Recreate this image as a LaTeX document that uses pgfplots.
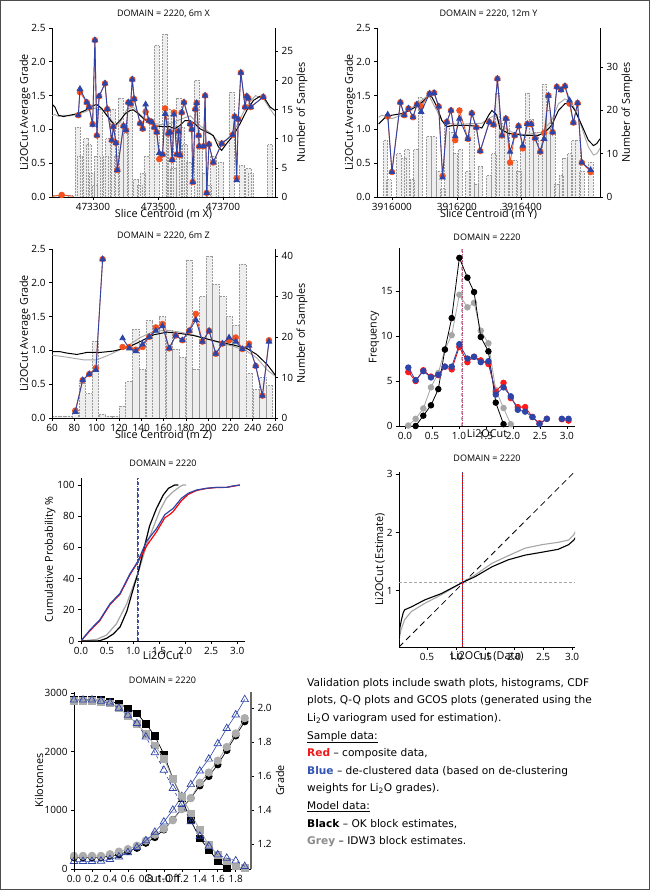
\documentclass[border=0pt]{standalone}
\usepackage{pgfplots}
\pgfplotsset{compat=1.18}
\usepackage{fontspec}
\setmainfont{Open Sans}
\newfontfamily\tf{DejaVu Sans}
\definecolor{rd}{HTML}{F4511E}
\definecolor{bl}{HTML}{2E45A8}
\definecolor{gl}{HTML}{A6A6A6}
\definecolor{barf}{HTML}{EEEEEE}
\definecolor{bard}{HTML}{9A9A9A}
\definecolor{mauve}{HTML}{C04A78}
\definecolor{txtred}{HTML}{F01818}
\definecolor{txtblue}{HTML}{3355B5}
\definecolor{txtgrey}{HTML}{8C8C8C}
\pgfplotsset{
 base/.style={scale only axis, anchor=south west, clip mode=individual,
   axis line style={black, line width=0.6pt}, tick style={black, line width=0.6pt},
   tick align=outside, major tick length=3pt,
   tick label style={font=\fontsize{10}{11}\selectfont},
   label style={font=\fontsize{10.8}{12}\selectfont},
   title style={font=\fontsize{9}{10}\selectfont},
   /pgf/number format/assume math mode=true, unbounded coords=jump},
 ylab/.style={ylabel style={at={(axis description cs:#1,0.5)}, anchor=center}},
 xlab/.style={xlabel style={at={(axis description cs:0.5,#1)}, anchor=center}},
 ttl/.style={title style={at={(axis description cs:0.5,#1)}, anchor=center, yshift=-6pt}},
 rdm/.style={rd, line width=0.8pt, mark=*, mark size=2.8pt, mark options={solid, fill=rd, draw=rd}},
 blm/.style={bl, line width=0.9pt, mark=triangle*, mark size=3pt, mark options={solid, fill=bl, draw=bl}},
 bars/.style={ybar, bar width=#1, fill=barf, draw=bard, densely dotted, line width=0.5pt},
 dec1/.style={/pgf/number format/.cd, fixed, fixed zerofill, precision=1},
}
\begin{document}
\begin{tikzpicture}[x=1pt,y=1pt]
\useasboundingbox (0,0) rectangle (650,890);
\fill[white] (0,0) rectangle (650,890);

% ================= P1 : 6m X swath =================
\begin{axis}[base, at={(52pt,693pt)}, width=223pt, height=169pt,
 xmin=473174, xmax=473860, ymin=0, ymax=29,
 axis x line=none, axis y line*=right, ytick={0,5,10,15,20,25},
 ylabel={Number of Samples}, ylab=1.121]
\addplot[bars=16] coordinates {(473185,0.3)(473200,0.3)(473215,0.3)(473230,0.3)(473252,12)(473260,7)(473279,10)(473286,9)(473296,4)(473306,2)(473313,7)(473322,15)(473340,7)(473347,10)(473361,15)(473373,7)(473385,17)(473402,11)(473414,16)(473432,3)(473443,2)(473453,4)(473465,7)(473481,13)(473496,26)(473522,28)(473532,15)(473539,14)(473547,5)(473563,17)(473573,12)(473583,9)(473594,6)(473619,20)(473629,9)(473645,4)(473655,2)(473670,7)(473694,6)(473726,18)(473758,5.5)(473778,5)(473785,4)(473845,9)};
\end{axis}
\begin{axis}[base, at={(52pt,693pt)}, width=223pt, height=169pt,
 xmin=473174, xmax=473860, ymin=0, ymax=2.5,
 axis x line*=bottom, axis y line*=left,
 xtick={473300,473500,473700}, scaled x ticks=false,
 xticklabel style={/pgf/number format/.cd, fixed, 1000 sep={}},
 ytick={0,0.5,1,1.5,2,2.5}, yticklabel style={dec1},
 ylabel={Li2OCut Average Grade}, ylab=-0.121,
 xlabel={Slice Centroid (m X)}, xlab=-0.1,
 title={DOMAIN = 2220, 6m X}, ttl=1.083]
\addplot[gl, line width=0.9pt] coordinates {(473173,1.20)(473183,1.22)(473194,1.19)(473209,1.21)(473229,1.20)(473250,1.22)(473276,1.26)(473296,1.30)(473320,1.33)(473342,1.22)(473358,1.13)(473370,1.05)(473383,1.10)(473405,1.30)(473424,1.33)(473445,1.22)(473476,1.10)(473510,1.07)(473540,1.09)(473575,1.16)(473600,1.20)(473630,1.05)(473660,0.95)(473690,0.80)(473711,0.85)(473732,0.95)(473752,1.15)(473773,1.35)(473800,1.50)(473825,1.45)(473845,1.30)(473860,1.20)};
\addplot[black, line width=1pt] coordinates {(473173,1.38)(473183,1.33)(473194,1.21)(473209,1.19)(473229,1.21)(473250,1.23)(473276,1.28)(473296,1.34)(473311,1.37)(473327,1.31)(473342,1.21)(473358,1.11)(473368,1.06)(473383,1.13)(473399,1.23)(473414,1.28)(473424,1.29)(473440,1.23)(473455,1.16)(473476,1.09)(473496,1.05)(473517,1.04)(473537,1.04)(473552,1.01)(473568,1.06)(473583,1.13)(473599,1.13)(473614,1.08)(473629,1.01)(473650,0.96)(473670,0.91)(473686,0.74)(473696,0.69)(473711,0.79)(473732,0.91)(473752,1.08)(473773,1.28)(473794,1.43)(473814,1.49)(473829,1.45)(473845,1.33)(473860,1.28)};
\addplot[rdm, mark indices={2}] coordinates {(473174,0.01)(473204,0.03)(473240,0.01)};
\addplot[rdm] table[x=X, y=R, row sep=\\] {X R B\\
473255 1.21 1.21\\ 473260 1.55 1.60\\ 473281 1.40 1.40\\ 473288 1.33 1.33\\ 473299 1.08 1.07\\ 473306 2.32 2.32\\ 473312 0.91 0.91\\ 473319 1.49 1.49\\ 473337 1.68 1.68\\ 473344 1.30 1.30\\ 473358 0.84 0.84\\ 473363 1.04 1.04\\ 473371 0.80 0.80\\ 473375 0.40 0.40\\ 473394 1.05 1.05\\ 473402 0.99 0.99\\ 473409 1.40 1.40\\ 473416 1.38 1.38\\ 473421 1.74 1.74\\ 473427 1.45 1.45\\ 473445 1.09 1.09\\ 473453 1.01 1.01\\ 473462 1.26 1.37\\ 473472 1.13 1.13\\ 473481 1.11 1.11\\ 473489 1.03 1.03\\ 473496 0.96 0.96\\ 473504 0.56 0.65\\ 473514 0.63 0.63\\ 473522 1.31 1.23\\ 473532 0.94 0.94\\ 473537 0.96 0.96\\ 473544 0.55 0.55\\ 473549 1.25 1.22\\ 473558 0.63 0.63\\ 473563 0.97 0.97\\ 473568 0.62 0.62\\ 473573 1.25 1.25\\ 473580 1.40 1.40\\ 473599 1.08 1.08\\ 473604 1.00 1.00\\ 473607 0.22 0.22\\ 473615 1.30 1.30\\ 473619 1.39 1.39\\ 473625 0.91 0.91\\ 473627 0.75 0.75\\ 473640 0.75 0.75\\ 473645 1.50 1.50\\ 473650 0.06 0.06\\ 473657 0.78 0.78\\ 473670 0.51 0.51\\ 473696 0.79 0.79\\ 473730 0.92 0.92\\ 473736 1.19 1.19\\ 473742 0.28 0.25\\ 473747 1.15 1.15\\ 473755 1.84 1.84\\ 473768 1.33 1.33\\ 473773 1.49 1.49\\ 473778 1.46 1.46\\ 473785 1.33 1.33\\ 473824 1.48 1.48\\};
\addplot[blm] table[x=X, y=B, row sep=\\] {X R B\\
473255 1.21 1.21\\ 473260 1.55 1.60\\ 473281 1.40 1.40\\ 473288 1.33 1.33\\ 473299 1.08 1.07\\ 473306 2.32 2.32\\ 473312 0.91 0.91\\ 473319 1.49 1.49\\ 473337 1.68 1.68\\ 473344 1.30 1.30\\ 473358 0.84 0.84\\ 473363 1.04 1.04\\ 473371 0.80 0.80\\ 473375 0.40 0.40\\ 473394 1.05 1.05\\ 473402 0.99 0.99\\ 473409 1.40 1.40\\ 473416 1.38 1.38\\ 473421 1.74 1.74\\ 473427 1.45 1.45\\ 473445 1.09 1.09\\ 473453 1.01 1.01\\ 473462 1.26 1.37\\ 473472 1.13 1.13\\ 473481 1.11 1.11\\ 473489 1.03 1.03\\ 473496 0.96 0.96\\ 473504 0.56 0.65\\ 473514 0.63 0.63\\ 473522 1.31 1.23\\ 473532 0.94 0.94\\ 473537 0.96 0.96\\ 473544 0.55 0.55\\ 473549 1.25 1.22\\ 473558 0.63 0.63\\ 473563 0.97 0.97\\ 473568 0.62 0.62\\ 473573 1.25 1.25\\ 473580 1.40 1.40\\ 473599 1.08 1.08\\ 473604 1.00 1.00\\ 473607 0.22 0.22\\ 473615 1.30 1.30\\ 473619 1.39 1.39\\ 473625 0.91 0.91\\ 473627 0.75 0.75\\ 473640 0.75 0.75\\ 473645 1.50 1.50\\ 473650 0.06 0.06\\ 473657 0.78 0.78\\ 473670 0.51 0.51\\ 473696 0.79 0.79\\ 473730 0.92 0.92\\ 473736 1.19 1.19\\ 473742 0.28 0.25\\ 473747 1.15 1.15\\ 473755 1.84 1.84\\ 473768 1.33 1.33\\ 473773 1.49 1.49\\ 473778 1.46 1.46\\ 473785 1.33 1.33\\ 473824 1.48 1.48\\};
\end{axis}

% ================= P2 : 12m Y swath (x = Y - 3916000) =================
\begin{axis}[base, at={(377pt,693pt)}, width=223pt, height=169pt,
 xmin=-46, xmax=641, ymin=0, ymax=39,
 axis x line=none, axis y line*=right, ytick={0,10,20,30},
 ylabel={Number of Samples}, ylab=1.121]
\addplot[bars=14] coordinates {(-20,13)(-10,4)(21,10)(36,9)(46,11)(62,4)(74,11)(87,23)(113,14)(128,14)(144,6)(156,2)(169,17)(183,15)(195,10)(210,11)(234,6)(246,17)(260,3)(272,7)(298,5)(313,10)(325,24)(339,17)(354,18)(364,8)(378,8.5)(390,6)(403,12)(417,24)(429,18)(443,15)(457,13)(469,26)(482,20)(495,15)(508,3)(521,5)(533,9)(547,10)(559,13)(572,13)(585,6)(612,8)};
\end{axis}
\begin{axis}[base, at={(377pt,693pt)}, width=223pt, height=169pt,
 xmin=-46, xmax=641, ymin=0, ymax=2.5,
 axis x line*=bottom, axis y line*=left,
 xtick={0,200,400}, xticklabels={3916000,3916200,3916400},
 ytick={0,0.5,1,1.5,2,2.5}, yticklabel style={dec1},
 ylabel={Li2OCut Average Grade}, ylab=-0.121,
 xlabel={Slice Centroid (m Y)}, xlab=-0.1,
 title={DOMAIN = 2220, 12m Y}, ttl=1.083]
\addplot[gl, line width=0.9pt] coordinates {(-41,1.18)(-31,1.21)(0,1.16)(31,1.21)(92,1.43)(113,1.51)(154,1.13)(185,1.08)(226,1.08)(277,1.09)(298,1.16)(318,1.21)(339,1.05)(369,0.96)(410,0.92)(462,0.96)(492,1.13)(513,1.38)(533,1.45)(554,1.40)(574,1.18)(605,0.74)(621,0.62)(631,0.64)(641,0.72)};
\addplot[black, line width=1pt] coordinates {(-41,1.08)(-20,1.18)(0,1.21)(26,1.23)(51,1.27)(72,1.33)(92,1.40)(113,1.49)(123,1.48)(139,1.33)(154,1.13)(169,1.04)(190,1.06)(226,1.06)(257,1.05)(277,1.02)(298,1.21)(308,1.28)(323,1.21)(333,1.01)(359,0.94)(410,0.91)(451,0.91)(472,0.96)(492,1.06)(513,1.28)(533,1.38)(549,1.38)(564,1.28)(585,1.06)(605,0.84)(621,0.76)(631,0.79)(641,0.86)};
\addplot[rdm] table[x=X, y=R, row sep=\\] {X R B\\
-13 1.19 1.22\\ 0 0.37 0.37\\ 26 1.40 1.40\\ 38 1.21 1.21\\ 51 1.31 1.31\\ 65 1.18 1.18\\ 77 1.37 1.37\\ 90 1.34 1.26\\ 116 1.53 1.53\\ 130 1.54 1.54\\ 144 1.34 1.34\\ 156 0.31 0.29\\ 169 1.11 1.11\\ 182 1.28 1.28\\ 195 0.84 0.90\\ 208 1.28 1.16\\ 234 0.86 0.86\\ 246 1.24 1.24\\ 260 1.03 1.03\\ 272 0.68 0.68\\ 300 1.11 1.11\\ 313 1.07 1.07\\ 325 1.75 1.75\\ 339 0.91 0.91\\ 351 1.16 1.16\\ 364 0.51 0.67\\ 378 0.91 0.91\\ 390 1.05 1.05\\ 403 0.72 0.76\\ 417 1.08 1.08\\ 429 1.08 1.08\\ 441 0.87 0.87\\ 457 0.67 0.67\\ 469 0.95 0.86\\ 482 1.50 1.50\\ 495 0.96 0.96\\ 508 1.63 1.63\\ 521 1.59 1.58\\ 533 1.64 1.64\\ 547 1.38 1.43\\ 559 1.10 1.10\\ 572 1.39 1.39\\ 585 0.51 0.51\\ 612 0.37 0.40\\};
\addplot[blm] table[x=X, y=B, row sep=\\] {X R B\\
-13 1.19 1.22\\ 0 0.37 0.37\\ 26 1.40 1.40\\ 38 1.21 1.21\\ 51 1.31 1.31\\ 65 1.18 1.18\\ 77 1.37 1.37\\ 90 1.34 1.26\\ 116 1.53 1.53\\ 130 1.54 1.54\\ 144 1.34 1.34\\ 156 0.31 0.29\\ 169 1.11 1.11\\ 182 1.28 1.28\\ 195 0.84 0.90\\ 208 1.28 1.16\\ 234 0.86 0.86\\ 246 1.24 1.24\\ 260 1.03 1.03\\ 272 0.68 0.68\\ 300 1.11 1.11\\ 313 1.07 1.07\\ 325 1.75 1.75\\ 339 0.91 0.91\\ 351 1.16 1.16\\ 364 0.51 0.67\\ 378 0.91 0.91\\ 390 1.05 1.05\\ 403 0.72 0.76\\ 417 1.08 1.08\\ 429 1.08 1.08\\ 441 0.87 0.87\\ 457 0.67 0.67\\ 469 0.95 0.86\\ 482 1.50 1.50\\ 495 0.96 0.96\\ 508 1.63 1.63\\ 521 1.59 1.58\\ 533 1.64 1.64\\ 547 1.38 1.43\\ 559 1.10 1.10\\ 572 1.39 1.39\\ 585 0.51 0.51\\ 612 0.37 0.40\\};
\end{axis}

% ================= P3 : 6m Z swath =================
\begin{axis}[base, at={(52pt,472pt)}, width=223pt, height=169pt,
 xmin=60, xmax=260, ymin=0, ymax=41.7,
 axis x line=none, axis y line*=right, ytick={0,10,20,30,40},
 ylabel={Number of Samples}, ylab=1.121]
\addplot[bars=5.8] coordinates {(63,0.5)(69,0.5)(75,0.5)(81,2)(87,8.6)(93,6)(99,19)(105,1)(111,0.5)(117,0.4)(123,3)(129,9)(135,22)(141,12)(147,24)(153,22.5)(159,25)(165,21.7)(171,17)(177,15)(183,39)(189,12)(195,30)(201,40)(207,33)(213,30)(219,25)(225,23)(231,38)(237,11)(243,7)(249,10)(255,8)};
\end{axis}
\begin{axis}[base, at={(52pt,472pt)}, width=223pt, height=169pt,
 xmin=60, xmax=260, ymin=0, ymax=2.5,
 axis x line*=bottom, axis y line*=left,
 xtick={60,80,100,120,140,160,180,200,220,240,260},
 ytick={0,0.5,1,1.5,2,2.5}, yticklabel style={dec1},
 ylabel={Li2OCut Average Grade}, ylab=-0.121,
 xlabel={Slice Centroid (m Z)}, xlab=-0.1,
 title={DOMAIN = 2220, 6m Z}, ttl=1.077]
\addplot[gl, line width=0.9pt] coordinates {(60,0.93)(73.4,0.90)(88.3,0.86)(100.3,0.86)(112.2,0.94)(127.2,1.06)(139.1,1.19)(151,1.28)(163,1.30)(174.9,1.27)(186.9,1.23)(198.8,1.17)(210.7,1.11)(222.7,1.06)(234.6,0.99)(243.6,0.89)(253,0.71)(260,0.62)};
\addplot[black, line width=1pt] coordinates {(60,0.98)(67.5,0.98)(73.4,0.96)(82.4,0.94)(91.3,0.97)(103.3,0.97)(115.2,0.99)(127.2,1.04)(139.1,1.13)(151,1.23)(163,1.27)(174.9,1.25)(186.9,1.22)(198.8,1.17)(210.7,1.12)(222.7,1.08)(234.6,1.03)(243.6,0.94)(253,0.79)(260,0.64)};
\addplot[rdm] table[x=X, y=R, row sep=\\] {X R B\\
80.9 0.11 0.09\\ 87.5 0.56 0.56\\ 93.4 0.65 0.65\\ 99.4 0.74 0.71\\ 105.4 2.35 2.35\\ 114 nan nan\\ 123.3 1.05 1.18\\ 129.3 1.05 1.03\\ 135.2 1.01 0.99\\ 141.2 1.05 1.09\\ 147.2 1.20 1.20\\ 153.1 1.34 1.29\\ 159.1 1.39 1.36\\ 165.1 1.03 1.03\\ 171.0 1.22 1.22\\ 177.0 1.15 1.15\\ 183.0 1.29 1.29\\ 189.0 1.54 1.45\\ 194.9 1.13 1.13\\ 200.9 1.29 1.29\\ 206.9 0.95 0.95\\ 212.8 1.10 1.10\\ 218.8 1.15 1.19\\ 224.8 1.19 1.13\\ 230.7 1.02 1.02\\ 236.7 1.10 1.07\\ 242.7 0.77 0.77\\ 248.7 0.33 0.33\\ 254.6 1.15 1.13\\};
\addplot[blm] table[x=X, y=B, row sep=\\] {X R B\\
80.9 0.11 0.09\\ 87.5 0.56 0.56\\ 93.4 0.65 0.65\\ 99.4 0.74 0.71\\ 105.4 2.35 2.35\\ 114 nan nan\\ 123.3 1.05 1.18\\ 129.3 1.05 1.03\\ 135.2 1.01 0.99\\ 141.2 1.05 1.09\\ 147.2 1.20 1.20\\ 153.1 1.34 1.29\\ 159.1 1.39 1.36\\ 165.1 1.03 1.03\\ 171.0 1.22 1.22\\ 177.0 1.15 1.15\\ 183.0 1.29 1.29\\ 189.0 1.54 1.45\\ 194.9 1.13 1.13\\ 200.9 1.29 1.29\\ 206.9 0.95 0.95\\ 212.8 1.10 1.10\\ 218.8 1.15 1.19\\ 224.8 1.19 1.13\\ 230.7 1.02 1.02\\ 236.7 1.10 1.07\\ 242.7 0.77 0.77\\ 248.7 0.33 0.33\\ 254.6 1.15 1.13\\};
\end{axis}

% ================= P4 : histogram =================
\begin{axis}[base, at={(399pt,464pt)}, width=176pt, height=178pt,
 xmin=-0.11, xmax=3.15, ymin=0, ymax=19.8,
 axis x line*=bottom, axis y line*=left,
 xtick={0,0.5,1,1.5,2,2.5,3}, xticklabel style={dec1}, ytick={0,5,10,15},
 ylabel={Frequency}, ylab=-0.142,
 xlabel={Li2OCut}, xlab=-0.045,
 title={DOMAIN = 2220}, ttl=1.062,
 every axis plot/.append style={mark=*, mark size=2.8pt, line width=0.8pt}]
\addplot[gray!60, dashed, line width=1.8pt, mark=none] coordinates {(1.06,0)(1.06,19.8)};
\addplot[mauve, densely dotted, line width=1.2pt, mark=none] coordinates {(1.06,0)(1.06,19.8)};
\addplot[gl, mark options={fill=gl, draw=gl}] coordinates {(0.062,0.05)(0.198,0.8)(0.34,1.95)(0.482,4.3)(0.618,5.9)(0.74,8.5)(0.866,10.1)(1.008,14.6)(1.157,13.2)(1.28,13.7)(1.404,10.6)(1.546,9.2)(1.682,4.0)(1.826,2.0)(1.96,0.2)};
\addplot[black, mark options={fill=black}] coordinates {(0.198,0)(0.34,1.15)(0.482,2.3)(0.618,4.1)(0.74,8.5)(0.866,12.0)(1.008,18.7)(1.157,16.5)(1.28,14.9)(1.404,9.9)(1.546,8.3)(1.682,2.6)(1.826,0.2)};
\addplot[red!90!black, mark options={fill=red!90, draw=red!90}] table[row sep=\\] {x y\\ 0.062 6.0\\ 0.198 5.0\\ 0.34 6.2\\ 0.482 5.5\\ 0.618 5.65\\ 0.74 6.6\\ 0.866 6.3\\ 1.008 8.8\\ 1.157 7.1\\ 1.28 7.7\\ 1.404 7.3\\ 1.546 6.9\\ 1.682 3.8\\ 1.826 4.8\\ 1.96 3.1\\ 2.09 2.1\\ 2.226 2.1\\ 2.362 1.0\\ 2.492 0.3\\ 2.628 0.8\\ 2.76 nan\\ 2.906 0.75\\ 3.03 0.6\\};
\addplot[bl, mark options={fill=bl, draw=bl}] table[row sep=\\] {x y\\ 0.062 6.5\\ 0.198 5.1\\ 0.34 6.1\\ 0.482 5.4\\ 0.618 5.7\\ 0.74 6.6\\ 0.866 6.6\\ 1.008 9.1\\ 1.157 7.5\\ 1.28 7.7\\ 1.404 7.1\\ 1.546 7.2\\ 1.682 3.5\\ 1.826 4.3\\ 1.96 3.3\\ 2.09 1.8\\ 2.226 1.6\\ 2.362 1.0\\ 2.492 0.2\\ 2.628 0.8\\ 2.76 nan\\ 2.906 0.8\\ 3.03 0.8\\};
\end{axis}

% ================= P5 : CDF =================
\begin{axis}[base, at={(81pt,249pt)}, width=164pt, height=163pt,
 xmin=0, xmax=3.15, ymin=0, ymax=104.5,
 axis x line*=bottom, axis y line*=left,
 xtick={0,0.5,1,1.5,2,2.5,3}, xticklabel style={dec1}, ytick={0,20,40,60,80,100},
 ylabel={Cumulative Probability \%}, ylab=-0.189,
 xlabel={Li2OCut}, xlab=-0.092,
 title={DOMAIN = 2220}, ttl=1.092]
\addplot[gl, line width=1.2pt] coordinates {(0,0)(0.3,1)(0.49,3.8)(0.68,11)(0.88,24)(1.0,35)(1.09,43)(1.26,61.5)(1.39,73)(1.52,84)(1.64,91.5)(1.77,95.7)(1.9,99)(1.96,100)(2.02,100)};
\addplot[black, line width=1.2pt] coordinates {(0,0)(0.3,0)(0.36,0.2)(0.49,1.7)(0.62,4.5)(0.75,9)(0.88,19)(1.0,33)(1.09,43)(1.2,58)(1.32,74)(1.45,85)(1.58,93.6)(1.68,97.9)(1.8,100)(1.87,100)};
\addplot[red, line width=1.2pt] coordinates {(0,0)(0.17,6.5)(0.36,13)(0.56,23.5)(0.75,30)(0.94,42.5)(1.09,50.5)(1.2,57)(1.26,61)(1.45,70)(1.61,79)(1.7,81)(1.77,83)(1.93,90)(2.06,94)(2.22,96.5)(2.41,97.8)(2.6,98.4)(2.8,98.5)(2.92,99.2)(3.05,100)};
\addplot[bl, line width=1.2pt] coordinates {(0,0)(0.17,7)(0.36,13.5)(0.56,24)(0.75,30.5)(0.94,43)(1.09,51)(1.26,64)(1.45,72)(1.61,81)(1.77,85)(1.93,91.5)(2.06,94.7)(2.22,96.8)(2.41,97.9)(2.6,98.5)(2.8,98.5)(2.92,99.4)(3.05,100)};
\addplot[bl!70!gray, dashed, line width=1.8pt] coordinates {(1.09,0)(1.09,104.5)};
\addplot[red, densely dotted, line width=1.3pt] coordinates {(1.09,0)(1.09,104.5)};
\end{axis}

% ================= P6 : Q-Q =================
\begin{axis}[base, at={(399pt,243pt)}, width=176pt, height=175pt,
 xmin=0.017, xmax=3.05, ymin=0.03, ymax=3.04,
 axis x line*=bottom, axis y line*=left,
 xtick={0.5,1,1.5,2,2.5,3}, xticklabel style={dec1}, ytick={1,2,3},
 ylabel={Li2OCut (Estimate)}, ylab=-0.108,
 xlabel={Li2OCut (Data)}, xlab=-0.051,
 title={DOMAIN = 2220}, ttl=1.08]
\addplot[black, dash pattern=on 6pt off 4pt, line width=0.8pt] coordinates {(0.017,0.03)(3.03,3.03)};
\addplot[gray!70, dash pattern=on 3pt off 2pt, line width=1pt] coordinates {(0.017,1.14)(3.05,1.14)};
\addplot[gl, line width=1.1pt] coordinates {(0.017,0.15)(0.05,0.32)(0.115,0.5)(0.23,0.64)(0.46,0.78)(0.75,0.93)(1.11,1.14)(1.33,1.27)(1.62,1.47)(1.9,1.6)(2.19,1.73)(2.48,1.79)(2.76,1.83)(2.94,1.87)(3.03,1.96)(3.07,2.04)};
\addplot[black, line width=1.1pt] coordinates {(0.017,0.1)(0.03,0.35)(0.06,0.5)(0.09,0.62)(0.115,0.67)(0.23,0.72)(0.46,0.84)(0.75,0.95)(1.11,1.14)(1.33,1.24)(1.62,1.41)(1.9,1.53)(2.19,1.61)(2.48,1.66)(2.76,1.71)(2.94,1.79)(3.03,1.87)(3.07,1.93)};
\addplot[bl, line width=1.4pt] coordinates {(1.115,0.03)(1.115,3.04)};
\addplot[red, densely dotted, line width=1.4pt] coordinates {(1.115,0.03)(1.115,3.04)};
\end{axis}

% ================= P7 : GCOS =================
\begin{axis}[base, at={(74pt,21pt)}, width=177pt, height=177pt,
 xmin=0, xmax=1.97, ymin=1.053, ymax=2.094,
 axis x line=none, axis y line*=right, ytick={1.2,1.4,1.6,1.8,2.0}, yticklabel style={dec1},
 y axis line style={gray!80!black, line width=1.5pt},
 ylabel={Grade}, ylab=1.164]
\addplot[black, line width=0.7pt, mark=*, mark size=3.4pt, mark options={fill=black}] coordinates {(0,1.12)(0.1,1.12)(0.2,1.12)(0.3,1.12)(0.4,1.13)(0.5,1.137)(0.6,1.157)(0.7,1.176)(0.8,1.206)(0.9,1.239)(1.0,1.284)(1.1,1.343)(1.2,1.408)(1.3,1.47)(1.4,1.543)(1.5,1.598)(1.6,1.667)(1.7,1.751)(1.8,1.837)(1.9,1.92)};
\addplot[gray!75, line width=0.7pt, mark=*, mark size=3.8pt, mark options={fill=gray!65, draw=gray!65}] coordinates {(0,1.13)(0.1,1.13)(0.2,1.13)(0.3,1.13)(0.4,1.14)(0.5,1.155)(0.6,1.17)(0.7,1.19)(0.8,1.22)(0.9,1.255)(1.0,1.29)(1.1,1.34)(1.2,1.405)(1.3,1.47)(1.4,1.56)(1.5,1.62)(1.6,1.69)(1.7,1.77)(1.8,1.85)(1.9,1.94)};
\addplot[bl, line width=0.6pt, mark=triangle, mark size=4.3pt, mark options={solid, draw=bl, line width=0.7pt}] coordinates {(0,1.098)(0.1,1.098)(0.2,1.098)(0.3,1.10)(0.4,1.11)(0.5,1.125)(0.6,1.15)(0.7,1.18)(0.8,1.22)(0.9,1.27)(1.0,1.33)(1.1,1.40)(1.2,1.48)(1.3,1.55)(1.4,1.63)(1.5,1.70)(1.6,1.79)(1.7,1.88)(1.8,1.96)(1.9,2.05)};
\end{axis}
\begin{axis}[base, at={(74pt,21pt)}, width=177pt, height=177pt,
 xmin=0, xmax=1.97, ymin=0, ymax=3015,
 axis x line*=bottom, axis y line*=left,
 xtick={0,0.2,0.4,0.6,0.8,1.0,1.2,1.4,1.6,1.8}, xticklabel style={dec1},
 ytick={0,1000,2000,3000}, yticklabel style={/pgf/number format/.cd, fixed, 1000 sep={}},
 scaled y ticks=false,
 ylabel={Kilotonnes}, ylab=-0.198,
 xlabel={Cut-Off}, xlab=-0.051,
 title={DOMAIN = 2220}, ttl=1.068]
\addplot[black, line width=0.7pt, mark=square*, mark size=3.2pt, mark options={fill=black}] coordinates {(0,2880)(0.1,2880)(0.2,2880)(0.3,2880)(0.4,2858)(0.5,2814)(0.6,2740)(0.7,2650)(0.8,2475)(0.9,2265)(1.0,1955)(1.1,1542)(1.2,1203)(1.3,825)(1.4,525)(1.5,328)(1.6,141)(1.7,17)};
\addplot[gray!75, line width=0.7pt, mark=square*, mark size=3.4pt, mark options={fill=gray!65, draw=gray!65}] coordinates {(0,2870)(0.1,2870)(0.2,2870)(0.3,2850)(0.4,2820)(0.5,2740)(0.6,2615)(0.7,2475)(0.8,2305)(0.9,2107)(1.0,1881)(1.1,1542)(1.2,1232)(1.3,949)(1.4,667)(1.5,412)(1.6,243)(1.7,130)(1.8,45)(1.9,17)};
\addplot[bl, line width=0.6pt, dashed, mark=triangle, mark size=4.3pt, mark options={solid, draw=bl, line width=0.7pt}] coordinates {(0,2880)(0.1,2880)(0.2,2880)(0.3,2860)(0.4,2830)(0.5,2740)(0.6,2620)(0.7,2480)(0.8,2250)(0.9,1983)(1.0,1684)(1.1,1373)(1.2,1100)(1.3,808)(1.4,560)(1.5,390)(1.6,243)(1.7,186)(1.8,141)(1.9,45)};
\end{axis}

% ================= text block =================
\node[anchor=north west, inner sep=0pt, align=left, font=\tf\fontsize{10.6}{17.6}\selectfont] at (307,212) {%
Validation plots include swath plots, histograms, CDF\\
plots, Q-Q plots and GCOS plots (generated using the\\
Li\textsubscript{2}O variogram used for estimation).\\
\underline{Sample data:}\\
\textcolor{txtred}{\textbf{Red}} – composite data,\\
\textcolor{txtblue}{\textbf{Blue}} – de-clustered data (based on de-clustering\\
weights for Li\textsubscript{2}O grades).\\
\underline{Model data:}\\
\textbf{Black} – OK block estimates,\\
\textcolor{txtgrey}{\textbf{Grey}} – IDW3 block estimates.};

\draw[line width=1.4pt, black!70] (0.7,0.7) rectangle (649.3,889.3);
\end{tikzpicture}
\end{document}
